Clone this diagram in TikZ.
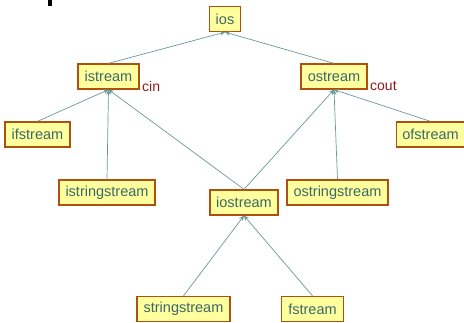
\documentclass[tikz,border=0pt]{standalone}
\usepackage{fontspec}
\setmainfont{Liberation Sans}
\usetikzlibrary{arrows.meta}
\definecolor{boxfill}{HTML}{FFFF9E}
\definecolor{boxdraw}{HTML}{B0500F}
\definecolor{txt}{HTML}{3A6868}
\definecolor{edge}{HTML}{6A9898}
\definecolor{lab}{HTML}{8E1A1A}
\tikzset{
  cls/.style={draw=boxdraw, line width=1.3pt, fill=boxfill, text=txt,
    font=\fontsize{14.5}{16}\selectfont, minimum height=25pt, inner xsep=6pt, inner ysep=0pt, anchor=center},
  inh/.style={draw=edge, line width=0.7pt, -{Stealth[length=5pt,width=4.5pt]}},
  lbl/.style={text=lab, font=\fontsize{14}{16}\selectfont, inner sep=0pt}
}
\begin{document}
\begin{tikzpicture}[x=1pt,y=-1pt]
\useasboundingbox (0,0) rectangle (464,322);
\fill[black] (48,0) rectangle (51.5,6);
\node[cls, minimum width=30pt] (ios) at (225,19) {ios};
\node[cls, minimum width=61pt] (istream) at (108.5,76.5) {istream};
\node[cls, minimum width=66pt] (ostream) at (334,76.5) {ostream};
\node[cls, minimum width=65pt] (ifstream) at (37.5,134.5) {ifstream};
\node[cls, minimum width=96pt] (istringstream) at (107,192.5) {istringstream};
\node[cls, minimum width=68pt] (iostream) at (244,202.5) {iostream};
\node[cls, minimum width=101pt] (ostringstream) at (337.5,192.5) {ostringstream};
\node[cls, minimum width=65pt] (ofstream) at (430.5,134.5) {ofstream};
\node[cls, minimum width=93pt] (stringstream) at (183.5,309) {stringstream};
\node[cls, minimum width=62pt] (fstream) at (312.5,309) {fstream};
\node[lbl, anchor=west] (cin) at (142,86) {cin};
\node[lbl, anchor=west] (cout) at (370,86) {cout};
\draw[inh] (istream.north) -- (ios.south);
\draw[inh] (ostream.north) -- (ios.south);
\draw[inh] (ifstream.north) -- (istream.south);
\draw[inh] (istringstream.north) -- (istream.south);
\draw[inh] (iostream.north) -- (istream.south);
\draw[inh] (iostream.north) -- (ostream.south);
\draw[inh] (ostringstream.north) -- (ostream.south);
\draw[inh] (ofstream.north) -- (ostream.south);
\draw[inh] (stringstream.north) -- (iostream.south);
\draw[inh] (fstream.north) -- (iostream.south);
\end{tikzpicture}
\end{document}
